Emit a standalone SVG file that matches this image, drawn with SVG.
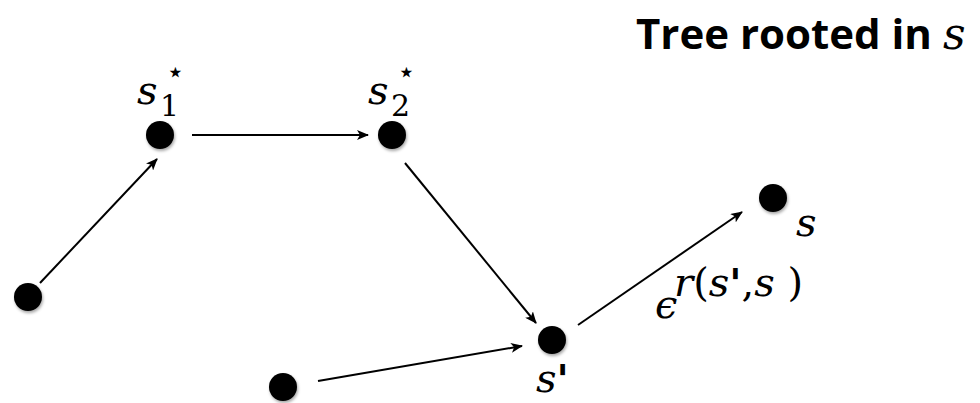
<svg xmlns="http://www.w3.org/2000/svg" width="980" height="403" viewBox="0 0 980 403">
<defs>
<marker id="ah" markerWidth="12" markerHeight="10" refX="11" refY="5" orient="auto" markerUnits="userSpaceOnUse">
<path d="M0,0 L12,5 L0,10 L3,5 Z" fill="#000"/>
</marker>
<filter id="sh" x="-50%" y="-50%" width="200%" height="200%">
<feDropShadow dx="1" dy="2" stdDeviation="1.5" flood-color="#000" flood-opacity="0.35"/>
</filter>
</defs>
<style>
.n{fill:#000;filter:url(#sh)}
.e{stroke:#000;stroke-width:2;fill:none;marker-end:url(#ah)}
.m{font-family:"DejaVu Serif","Liberation Serif",serif;font-style:italic;font-size:40px;fill:#000}
.mu{font-family:"DejaVu Serif","Liberation Serif",serif;font-size:30px;fill:#000}
.p{font-family:"DejaVu Sans","Liberation Sans",sans-serif;font-style:italic;font-weight:bold}
.t{font-family:"Open Sans","Liberation Sans",sans-serif;font-weight:bold;font-size:42px;fill:#000}
</style>
<rect width="980" height="403" fill="#fff"/>
<g id="title"><text class="t" x="636" y="49">Tree rooted in <tspan font-family="DejaVu Serif" font-style="italic" font-weight="normal" font-size="44">s</tspan></text></g>
<g id="edges">
<line class="e" x1="40" y1="283" x2="157" y2="159"/>
<line class="e" x1="192" y1="135" x2="368" y2="135"/>
<line class="e" x1="405" y1="163" x2="536" y2="323"/>
<line class="e" x1="318" y1="381" x2="522" y2="346"/>
<line class="e" x1="578" y1="325" x2="742" y2="212"/>
</g>
<g id="n0"><circle class="n" cx="28" cy="297" r="14"/></g>
<g id="s1"><circle class="n" cx="160" cy="135" r="14"/>
<text class="m" x="137" y="104">s</text><text class="mu" x="160" y="116">1</text><text class="mu" x="166" y="82" font-size="18">⋆</text></g>
<g id="s2"><circle class="n" cx="392" cy="135" r="14"/>
<text class="m" x="368" y="104">s</text><text class="mu" x="391" y="116">2</text><text class="mu" x="397" y="82" font-size="18">⋆</text></g>
<g id="s"><circle class="n" cx="773" cy="198" r="14"/><text class="m" x="796" y="236">s</text></g>
<g id="sp"><circle class="n" cx="552" cy="340" r="14"/><text class="m" x="536" y="392">s<tspan class="p" font-size="40" dy="2">'</tspan></text></g>
<g id="label"><text class="m" x="655" y="318" font-size="36">ϵ</text><text class="m" x="674" y="296" font-size="30">r<tspan font-style="normal">(</tspan>s<tspan class="p" dy="2">'</tspan><tspan font-style="normal" dy="-2">,</tspan>s <tspan font-style="normal">)</tspan></text></g>
<g id="n5"><circle class="n" cx="283" cy="387" r="14"/></g>
</svg>
